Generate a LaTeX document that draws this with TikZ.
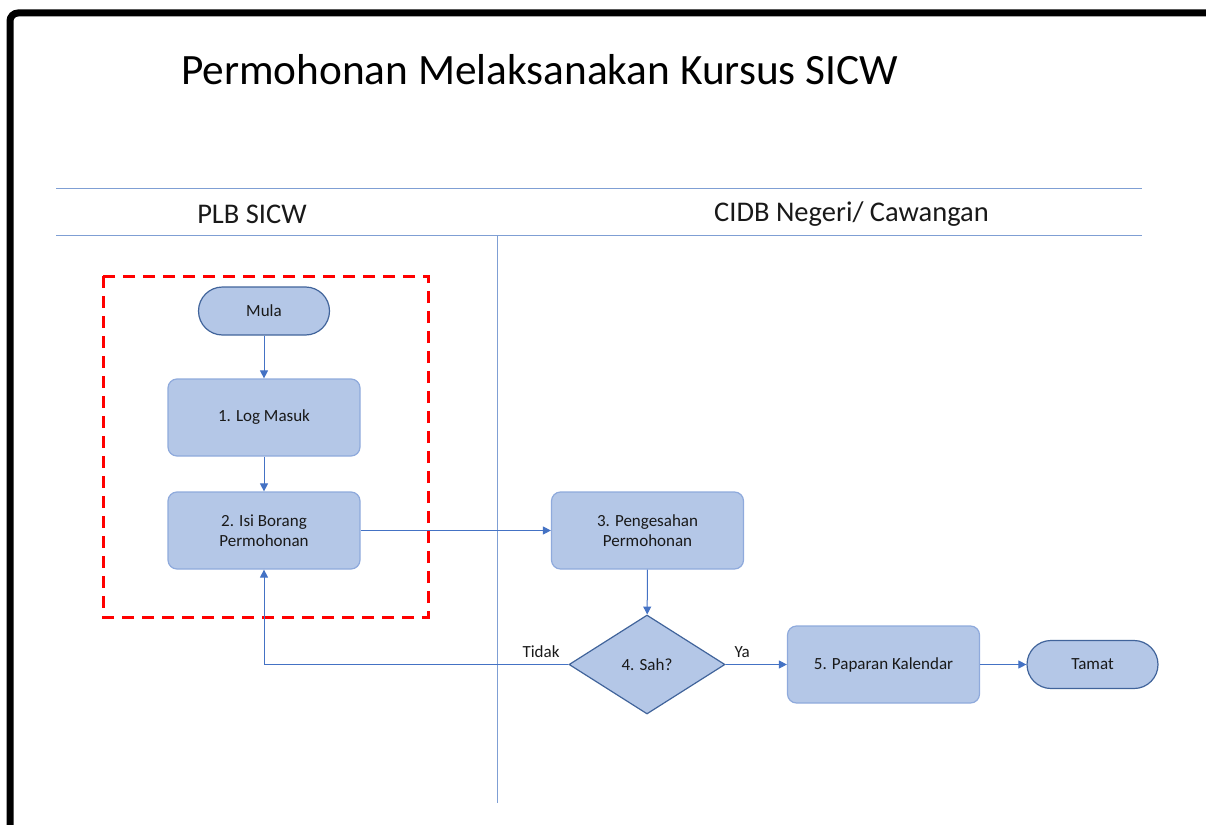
\documentclass[tikz,border=0pt]{standalone}
\usepackage{fontspec}
\setmainfont{Carlito}
\usetikzlibrary{arrows.meta,shapes.geometric}
\definecolor{boxfill}{HTML}{B4C7E7}
\definecolor{boxline}{HTML}{8FAADC}
\definecolor{termline}{HTML}{41649B}
\definecolor{flow}{HTML}{4472C4}
\definecolor{lane}{HTML}{7F9FD4}
\tikzset{
  every node/.style={font=\fontsize{17}{20}\selectfont, text=black!90},
  proc/.style={draw=boxline, fill=boxfill, line width=1.2pt, rounded corners=9pt,
    minimum width=192pt, minimum height=77pt, align=center, inner sep=0pt},
  term/.style={draw=termline, fill=boxfill, line width=1.2pt, rounded corners=24pt,
    minimum width=131pt, minimum height=48pt, inner sep=0pt},
  decide/.style={draw=termline, fill=boxfill, line width=1.2pt, diamond,
    minimum width=156pt, minimum height=99pt, inner sep=0pt},
  link/.style={draw=flow, line width=1pt, -{Triangle[width=8pt,length=8pt]}},
  lanetext/.style={font=\fontsize{28.5}{32}\selectfont}
}
\begin{document}
\begin{tikzpicture}[x=1pt,y=-1pt]
    \useasboundingbox (0,0) rectangle (1206,824);
    \begin{scope}\clip(0,0)rectangle(1206,824);
    \draw[line width=7pt, rounded corners=8pt] (10,840) -- (10,13) -- (1220,13);
    \end{scope}
    % title and lanes
    \node[font=\fontsize{43.3}{48}\selectfont, text=black] (title) at (539.5,70) {Permohonan Melaksanakan Kursus SICW};
    \draw[lane, line width=1pt] (56,188) -- (1142,188);
    \draw[lane, line width=1pt] (56,235) -- (1142,235);
    \draw[lane, line width=1pt] (497,235) -- (497,803);
    \node[lanetext] (plb) at (252,214) {PLB SICW};
    \node[lanetext] (cidb) at (851.5,214) {CIDB Negeri/ Cawangan};
    \draw[red, line width=3pt, dash pattern=on 12pt off 8pt] (103,276) rectangle (428,617);
    % steps
    \node[term] (mula) at (264,311) {Mula};
    \node[proc] (log) at (264,417.5) {1. Log Masuk};
    \node[proc] (isi) at (264,530.5) {2. Isi Borang\\Permohonan};
    \node[proc] (sahkan) at (647.5,530.5) {3. Pengesahan\\Permohonan};
    \node[decide] (sah) at (647,664.5) {4. Sah?};
    \node[proc] (papar) at (883.5,664.5) {5. Paparan Kalendar};
    \node[term] (tamat) at (1092.5,664.5) {Tamat};
    % arrows
    \draw[link] (mula) -- (log);
    \draw[link] (log) -- (isi);
    \draw[link] (isi) -- (sahkan);
    \draw[link] (sahkan) -- (sah);
    \draw[link] (sah) -- node[pos=0.27, above=3pt]{Ya} (papar);
    \draw[link] (papar) -- (tamat);
    \draw[link] (sah.west) -- node[pos=0.09, above=3pt]{Tidak} (isi.south |- sah.west) -- (isi.south);
\end{tikzpicture}
\end{document}
